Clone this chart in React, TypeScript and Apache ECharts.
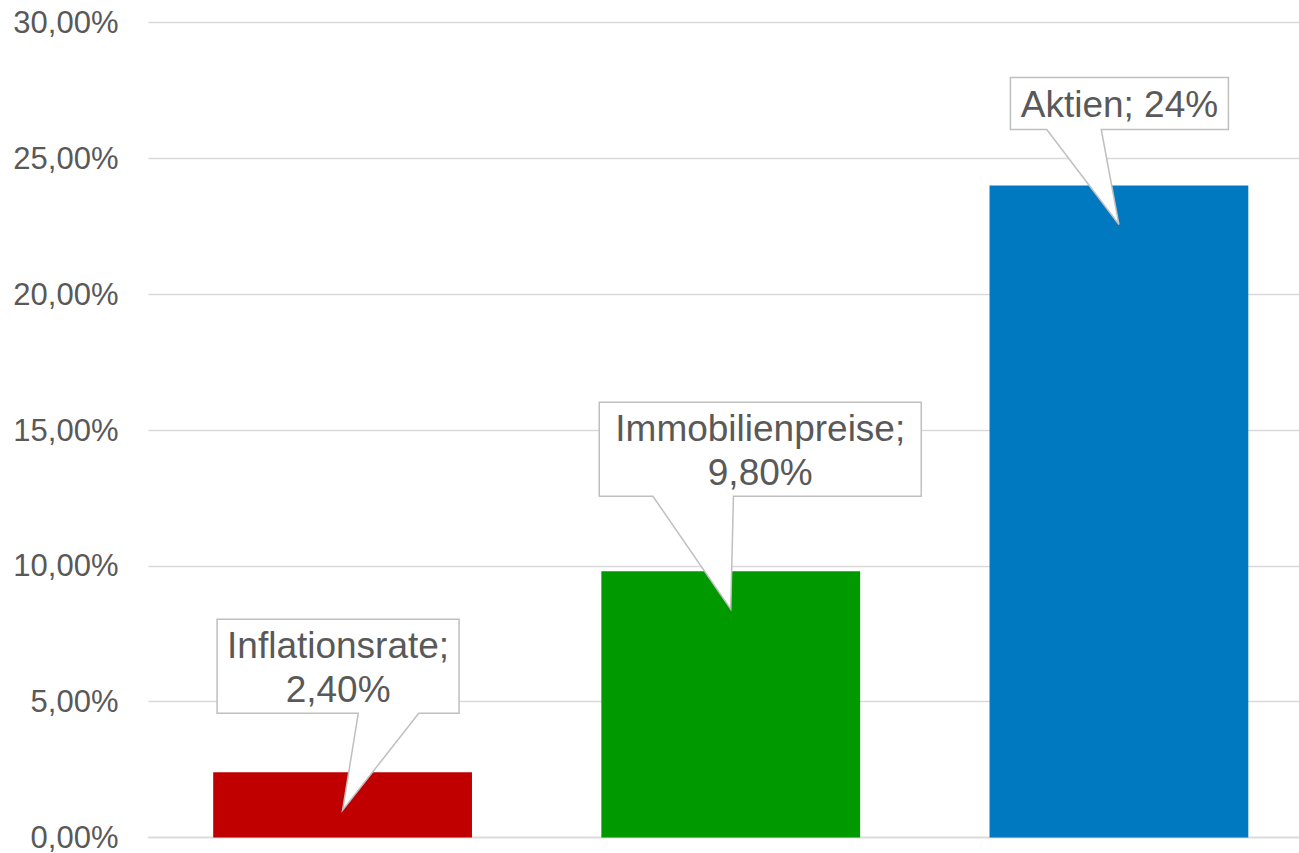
import React, { useEffect, useRef } from "react";
import * as echarts from "echarts";

const categories = ["Inflationsrate", "Immobilienpreise", "Aktien"];
const values = [2.4, 9.8, 24];
const valueLabels = ["2,40%", "9,80%", "24%"];
const barColors = ["#c00000", "#009900", "#0079c1"];
const yTicks = { min: 0, max: 30, interval: 5 };

// callout box layout (annotation geometry, px): box center offset from tip, box size,
// distance of box bottom above bar top, distance of wedge tip below bar top, line break
const calloutLayout = [
  { dx: -4.5, w: 242, h: 94, rise: 59, drop: 38, breakLine: true },
  { dx: 29.5, w: 322, h: 94, rise: 75, drop: 38, breakLine: true },
  { dx: 0.5, w: 218, h: 52, rise: 56, drop: 39, breakLine: false },
];

const FONT = '"Liberation Sans", Arial, Helvetica, sans-serif';

export default function App() {
  const ref = useRef<HTMLDivElement>(null);
  useEffect(() => {
    if (!ref.current) return;
    document.documentElement.style.overflow = "hidden";
    document.body.style.overflow = "hidden";
    document.body.style.margin = "0";
    const chart = echarts.init(ref.current, null, { renderer: "svg" });
    chart.setOption({
      animation: false,
      backgroundColor: "#ffffff",
      grid: { left: 148.5, right: 0, top: 22.5, bottom: 11, containLabel: false },
      xAxis: {
        type: "category",
        data: categories,
        axisLine: { show: true, lineStyle: { color: "#d9d9d9", width: 1.3 } },
        axisTick: { show: false },
        axisLabel: { show: false },
      },
      yAxis: {
        type: "value",
        min: yTicks.min,
        max: yTicks.max,
        interval: yTicks.interval,
        axisLine: { show: false },
        axisTick: { show: false },
        axisLabel: {
          margin: 30,
          color: "#595959",
          fontFamily: FONT,
          fontSize: 31,
          formatter: (v: number) => v.toFixed(2).replace(".", ",") + "%",
        },
        splitLine: { show: true, lineStyle: { color: "#d9d9d9", width: 1.3 } },
      },
      series: [
        {
          type: "bar",
          barCategoryGap: "33.33%",
          data: values.map((v, i) => ({ value: v, itemStyle: { color: barColors[i] } })),
        },
        {
          type: "custom",
          z: 10,
          data: values.map((v, i) => [i, v]),
          renderItem: (params: any, api: any) => {
            const i = params.dataIndex;
            const L = calloutLayout[i];
            const top = api.coord([i, api.value(1)]);
            const tipX = top[0];
            const tipY = top[1] + L.drop;
            const cx = tipX + L.dx;
            const bottom = top[1] - L.rise;
            const boxTop = bottom - L.h;
            const left = cx - L.w / 2;
            const right = cx + L.w / 2;
            const fr = tipX < cx ? [2 / 12, 5 / 12] : [7 / 12, 10 / 12];
            const b1 = left + L.w * fr[0];
            const b2 = left + L.w * fr[1];
            const text = categories[i] + ";" + (L.breakLine ? "\n" : " ") + valueLabels[i];
            return {
              type: "group",
              children: [
                {
                  type: "polygon",
                  shape: {
                    points: [
                      [left, boxTop],
                      [right, boxTop],
                      [right, bottom],
                      [b2, bottom],
                      [tipX, tipY],
                      [b1, bottom],
                      [left, bottom],
                    ],
                  },
                  style: { fill: "#ffffff", stroke: "#bfbfbf", lineWidth: 1.5 },
                },
                {
                  type: "text",
                  x: cx,
                  y: (boxTop + bottom) / 2 + 1,
                  style: {
                    text,
                    fill: "#595959",
                    fontFamily: FONT,
                    fontSize: 37,
                    lineHeight: 44,
                    align: "center",
                    verticalAlign: "middle",
                  },
                },
              ],
            };
          },
        },
      ],
    });
    return () => chart.dispose();
  }, []);
  return (
    <div
      ref={ref}
      style={{ position: "absolute", left: 0, top: 0, width: 1312.5, height: 853 }}
    />
  );
}
